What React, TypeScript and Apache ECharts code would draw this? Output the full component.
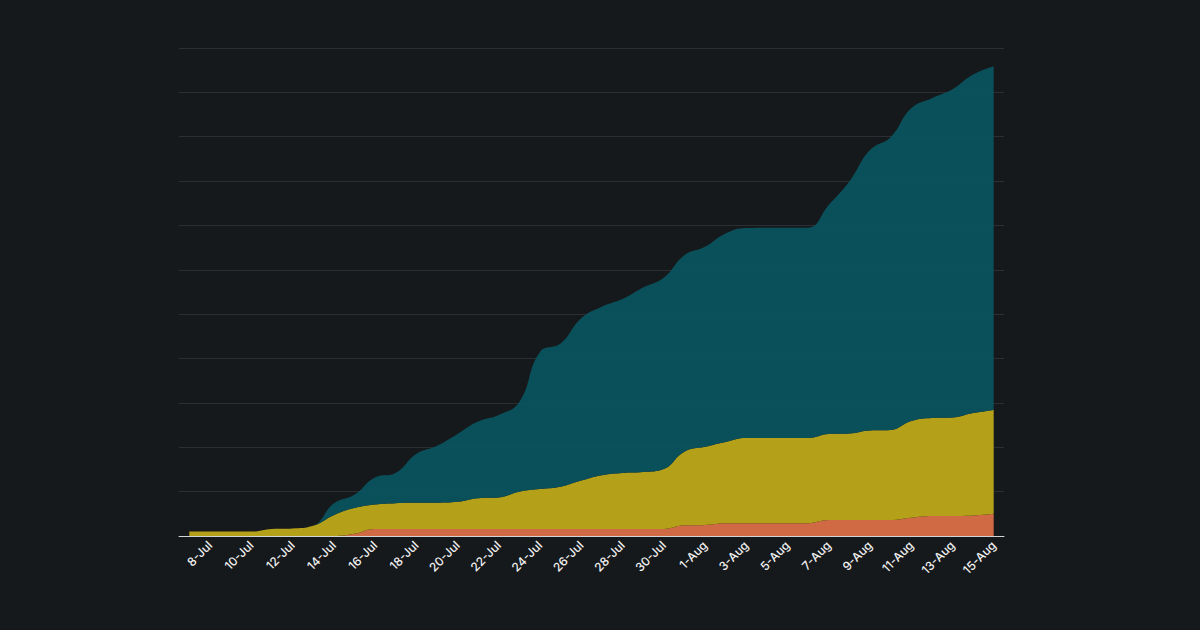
import React, { useEffect, useRef } from 'react'
import * as echarts from 'echarts'

// 7-Jul .. 15-Aug, one point per day
const days: string[] = [
  '7-Jul', '8-Jul', '9-Jul', '10-Jul', '11-Jul', '12-Jul', '13-Jul', '14-Jul', '15-Jul', '16-Jul',
  '17-Jul', '18-Jul', '19-Jul', '20-Jul', '21-Jul', '22-Jul', '23-Jul', '24-Jul', '25-Jul', '26-Jul',
  '27-Jul', '28-Jul', '29-Jul', '30-Jul', '31-Jul', '1-Aug', '2-Aug', '3-Aug', '4-Aug', '5-Aug',
  '6-Aug', '7-Aug', '8-Aug', '9-Aug', '10-Aug', '11-Aug', '12-Aug', '13-Aug', '14-Aug', '15-Aug',
]

// stacked bottom -> top
const orangeValues: number[] = [
  0, 0, 0, 0, 0, 0, 0, 0, 5, 16,
  16, 16, 16, 16, 16, 16, 16, 16, 16, 16,
  16, 16, 16, 16, 24, 25, 29, 29, 29, 29,
  29, 36, 36, 36, 36, 41, 45, 45, 46, 50,
]

const yellowValues: number[] = [
  10, 10, 10, 10, 16, 17, 23, 47, 58, 55,
  58, 59, 59, 61, 69, 71, 84, 90, 95, 109,
  121, 126, 128, 135, 166, 176, 183, 192, 192, 192,
  192, 194, 195, 202, 203, 218, 221, 222, 231, 234,
]

const tealValues: number[] = [
  0, 0, 0, 0, 0, 0, 0, 26, 30, 61,
  68, 110, 128, 153, 173, 186, 202, 309, 323, 366,
  380, 392, 416, 431, 443, 451, 470, 473, 474, 474,
  474, 516, 568, 632, 660, 705, 721, 740, 763, 775,
]

const yMax = 1100
const yStep = 100

const App = () => {
  const chartRef = useRef<HTMLDivElement>(null)

  useEffect(() => {
    if (!chartRef.current) return
    document.body.style.margin = '0'
    document.body.style.background = '#16191c'

    const chart = echarts.init(chartRef.current, null, { renderer: 'svg' })

    const areaSeries = (name: string, data: number[], color: string, opacity = 1) => ({
      name,
      type: 'line' as const,
      stack: 'total',
      data,
      smooth: 0.45,
      showSymbol: false,
      symbol: 'none',
      lineStyle: { width: 0 },
      areaStyle: { color, opacity },
      emphasis: { disabled: true },
    })

    chart.setOption({
      animation: false,
      backgroundColor: '#16191c',
      grid: { left: 179, right: 196, top: 48, bottom: 94, containLabel: false },
      xAxis: {
        type: 'category',
        data: days,
        boundaryGap: true,
        axisLine: { lineStyle: { color: '#d4d4d4', width: 1 } },
        axisTick: { show: false },
        axisLabel: {
          color: '#f2f2f2',
          fontSize: 12,
          fontWeight: 500,
          fontFamily: 'Inter',
          rotate: 45,
          margin: 7,
          interval: (index: number) => index % 2 === 1,
        },
      },
      yAxis: {
        type: 'value',
        min: 0,
        max: yMax,
        interval: yStep,
        axisLine: { show: false },
        axisTick: { show: false },
        axisLabel: { show: false },
        splitLine: { lineStyle: { color: '#2b2e32', width: 1 } },
      },
      series: [
        areaSeries('orange', orangeValues, '#cf6a44'),
        areaSeries('yellow', yellowValues, '#b5a019'),
        areaSeries('teal', tealValues, '#0a555f', 0.92),
      ],
    })

    return () => {
      chart.dispose()
    }
  }, [])

  return <div ref={chartRef} style={{ width: '1200px', height: '630px' }} />
}

export default App
